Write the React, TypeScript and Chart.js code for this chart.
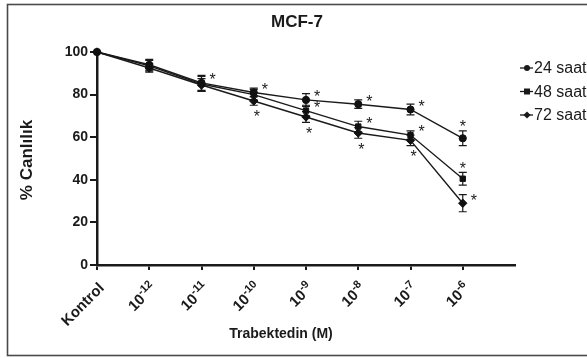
import React, { useEffect, useRef } from "react";
import { Chart, registerables } from "chart.js";

Chart.register(...registerables);

// ---- data ----
const categoryBase = ["Kontrol", "10", "10", "10", "10", "10", "10", "10"];
const categoryExp = ["", "-12", "-11", "-10", "-9", "-8", "-7", "-6"];
const seriesNames = ["24 saat", "48 saat", "72 saat"];

const values24 = [100, 94, 85.5, 81, 77.5, 75.5, 73, 59.5];
const values48 = [100, 93.5, 85, 80, 72.5, 65, 61, 40.5];
const values72 = [100, 92.5, 84.5, 77, 69.5, 62, 58.5, 29];

const err24 = [0, 2.5, 3.5, 2, 3, 2, 2.5, 3.5];
const err48 = [0, 2.5, 3.5, 2.5, 2.5, 2.5, 2, 3];
const err72 = [0, 2, 3, 2, 2.5, 2.5, 2.5, 4];

const yTicks = [0, 20, 40, 60, 80, 100];

// significance stars: [series index, category index, placement]
const stars: [number, number, string][] = [
  [0, 2, "right"],
  [0, 3, "right"],
  [2, 3, "below"],
  [0, 4, "right"],
  [1, 4, "right"],
  [2, 4, "below"],
  [0, 5, "right"],
  [1, 5, "right"],
  [2, 5, "below"],
  [0, 6, "right"],
  [1, 6, "right"],
  [2, 6, "below"],
  [0, 7, "above"],
  [1, 7, "above"],
  [2, 7, "right"],
];

const FONT = '"Liberation Sans", Arial, Helvetica, sans-serif';
const INK = "#1a1a1a";
const pointStyles = ["circle", "rect", "rectRot"];
const pointRadii = [3.6, 3.8, 4.2];

const allValues = [values24, values48, values72];
const allErrors = [err24, err48, err72];

const customPlugin = {
  id: "customDraw",
  beforeDraw(chart: any) {
    const ctx = chart.ctx;
    ctx.save();
    ctx.fillStyle = "#ffffff";
    ctx.fillRect(0, 0, chart.width, chart.height);
    ctx.strokeStyle = "#4a4a4a";
    ctx.lineWidth = 1.6;
    ctx.strokeRect(7.5, 4.5, 620, 351);
    ctx.restore();
  },
  beforeDatasetsDraw(chart: any) {
    const ctx = chart.ctx;
    const xs = chart.scales.x;
    const ys = chart.scales.y;
    ctx.save();
    ctx.strokeStyle = INK;
    ctx.lineWidth = 1.2;
    allValues.forEach((vals, s) => {
      vals.forEach((v, i) => {
        const e = allErrors[s][i];
        if (!e) return;
        const x = xs.getPixelForValue(i);
        const yt = ys.getPixelForValue(v + e);
        const yb = ys.getPixelForValue(v - e);
        ctx.beginPath();
        ctx.moveTo(x, yt);
        ctx.lineTo(x, yb);
        ctx.moveTo(x - 4, yt);
        ctx.lineTo(x + 4, yt);
        ctx.moveTo(x - 4, yb);
        ctx.lineTo(x + 4, yb);
        ctx.stroke();
      });
    });
    ctx.restore();
  },
  afterDraw(chart: any) {
    const ctx = chart.ctx;
    const xs = chart.scales.x;
    const ys = chart.scales.y;
    const area = chart.chartArea;
    ctx.save();
    ctx.fillStyle = INK;

    // stars
    ctx.font = `16px ${FONT}`;
    ctx.textAlign = "center";
    ctx.textBaseline = "middle";
    stars.forEach(([s, i, place]) => {
      const v = allValues[s][i];
      const e = allErrors[s][i];
      const x = xs.getPixelForValue(i);
      const y = ys.getPixelForValue(v);
      let sx = x;
      let sy = y;
      if (place === "right") {
        sx = x + 11;
        sy = y - 6;
      } else if (place === "above") {
        sx = x;
        sy = ys.getPixelForValue(v + e) - 7;
      } else {
        sx = x + 3;
        sy = ys.getPixelForValue(v - e) + 8;
      }
      ctx.fillText("*", sx, sy + 4);
    });

    // x tick labels (rotated, with superscripts)
    ctx.textAlign = "right";
    ctx.textBaseline = "middle";
    categoryBase.forEach((base, i) => {
      const x = xs.getPixelForValue(i);
      const exp = categoryExp[i];
      ctx.save();
      ctx.translate(x + 5, area.bottom + 21);
      ctx.rotate(-Math.PI / 4);
      ctx.font = `bold 11px ${FONT}`;
      const wSup = exp ? ctx.measureText(exp).width : 0;
      if (exp) ctx.fillText(exp, 0, -5);
      ctx.font = `bold 15px ${FONT}`;
      ctx.fillText(base, -wSup, 0);
      ctx.restore();
    });

    // x axis title
    ctx.textAlign = "center";
    ctx.textBaseline = "middle";
    ctx.font = `bold 14px ${FONT}`;
    ctx.fillText("Trabektedin (M)", 281, 334);

    // y axis title
    ctx.save();
    ctx.translate(27, 160);
    ctx.rotate(-Math.PI / 2);
    ctx.font = `bold 17px ${FONT}`;
    ctx.fillText("% Canlılık", 0, 0);
    ctx.restore();

    // title
    ctx.font = `bold 17px ${FONT}`;
    ctx.fillText("MCF-7", 297, 22);

    // legend
    seriesNames.forEach((name, s) => {
      const y = 68 + 23.5 * s;
      ctx.strokeStyle = INK;
      ctx.lineWidth = 1.3;
      ctx.beginPath();
      ctx.moveTo(520, y);
      ctx.lineTo(533, y);
      ctx.stroke();
      ctx.beginPath();
      const r = 3;
      if (s === 0) {
        ctx.arc(527, y, r, 0, Math.PI * 2);
      } else if (s === 1) {
        ctx.rect(527 - r, y - r, 2 * r, 2 * r);
      } else {
        ctx.moveTo(527, y - r - 0.6);
        ctx.lineTo(527 + r + 0.6, y);
        ctx.lineTo(527, y + r + 0.6);
        ctx.lineTo(527 - r - 0.6, y);
        ctx.closePath();
      }
      ctx.fill();
      ctx.textAlign = "left";
      ctx.font = `16px ${FONT}`;
      ctx.fillText(name, 534, y + 1);
    });
    ctx.restore();
  },
};

export default function App() {
  const canvasRef = useRef<HTMLCanvasElement | null>(null);

  useEffect(() => {
    if (!canvasRef.current) return;
    const datasets = allValues.map((vals, s) => ({
      label: seriesNames[s],
      data: vals.map((v, i) => ({ x: i, y: v })),
      borderColor: INK,
      backgroundColor: INK,
      borderWidth: 1.4,
      pointStyle: pointStyles[s],
      pointRadius: pointRadii[s],
      pointBackgroundColor: "#111",
      pointBorderColor: "#111",
      pointBorderWidth: 1,
      tension: 0,
      clip: false,
      showLine: true,
    }));

    const chart = new Chart(canvasRef.current, {
      type: "line",
      data: { datasets },
      options: {
        animation: false,
        responsive: false,
        maintainAspectRatio: false,
        layout: { padding: { left: 0, right: 72, top: 52, bottom: 0 } },
        plugins: {
          legend: { display: false },
          tooltip: { enabled: false },
          title: { display: false },
        },
        scales: {
          x: {
            type: "linear",
            min: 0,
            max: 8,
            afterBuildTicks: (scale: any) => {
              scale.ticks = categoryBase.map((_, i) => ({ value: i }));
            },
            afterFit: (scale: any) => {
              scale.height = 93;
            },
            ticks: { display: false },
            grid: {
              display: true,
              drawOnChartArea: false,
              drawTicks: true,
              tickLength: 5,
              color: INK,
              lineWidth: 2,
            },
            border: { display: true, color: INK, width: 2.5 },
          },
          y: {
            type: "linear",
            min: 0,
            max: 100,
            afterBuildTicks: (scale: any) => {
              scale.ticks = yTicks.map((v) => ({ value: v }));
            },
            afterFit: (scale: any) => {
              scale.width = 97;
            },
            ticks: {
              color: INK,
              padding: 2,
              font: { family: FONT, size: 14, weight: "bold" },
            },
            grid: {
              display: true,
              drawOnChartArea: false,
              drawTicks: true,
              tickLength: 7,
              color: INK,
              lineWidth: 2,
            },
            border: { display: true, color: INK, width: 2.5 },
          },
        },
      } as any,
      plugins: [customPlugin],
    });
    return () => chart.destroy();
  }, []);

  return (
    <div style={{ position: "fixed", left: 0, top: 0, width: 587, height: 358 }}>
      <canvas ref={canvasRef} width={587} height={358} style={{ display: "block" }} />
    </div>
  );
}
